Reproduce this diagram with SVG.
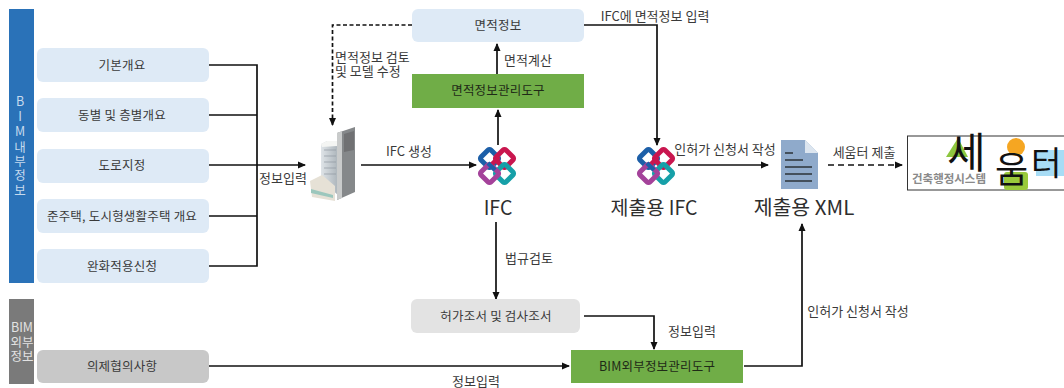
<svg xmlns="http://www.w3.org/2000/svg" xmlns:xlink="http://www.w3.org/1999/xlink" width="1064" height="388" viewBox="0 0 1064 388">
<style>
text{font-family:"Noto Sans CJK KR","Liberation Sans",sans-serif;fill:#3a3a3a;text-anchor:middle}
.s{font-size:13px}
.n{font-size:12.500px;letter-spacing:.2px}
.l{font-size:13px;text-anchor:start}
.b{font-size:19.500px;fill:#2e2e2e}
.blue{fill:#deeaf6}
.c{fill:none;stroke:#111;stroke-width:1.7}
.side{font-size:12.500px;fill:#c6daee}
.side2{font-size:12.500px;fill:#e2e2e2}
.dark{fill:#1f2a17}
</style>
<defs>
<marker id="a" markerWidth="9" markerHeight="8" refX="7" refY="4" orient="auto" markerUnits="userSpaceOnUse"><path d="M0 0.5L8 4L0 7.500Z" fill="#111"/></marker>
<filter id="soft" x="-5%" y="-5%" width="110%" height="110%"><feGaussianBlur stdDeviation=".5"/></filter>
<linearGradient id="tw" x1="0" y1="0" x2="1" y2="0"><stop offset="0" stop-color="#dfe4e8"/><stop offset="1" stop-color="#a9b2b8"/></linearGradient>
<g id="ifc" fill="none" stroke-width="5" filter="url(#soft)">
<rect x="-7" y="-7" width="14" height="14" rx="2" transform="translate(-7.500,-7.500) rotate(45)" stroke="#1f5fa8"/>
<rect x="-7" y="-7" width="14" height="14" rx="2" transform="translate(7.500,-7.500) rotate(45)" stroke="#c9184f"/>
<rect x="-7" y="-7" width="14" height="14" rx="2" transform="translate(7.500,7.500) rotate(45)" stroke="#16a0a8"/>
<rect x="-7" y="-7" width="14" height="14" rx="2" transform="translate(-7.500,7.500) rotate(45)" stroke="#a4429a"/>
<path d="M-9 -3L-2 4" stroke="#1f5fa8" stroke-width="4.500"/>
<path d="M2 -9L-5 -2" stroke="#c9184f" stroke-width="4.500"/>
</g>
</defs>
<rect width="1064" height="388" fill="#fff"/>
<g id="connectors">
<path class="c" d="M209 65H257V266H209M209 115H257M209 216H257"/>
<path class="c" d="M209 165H305" marker-end="url(#a)"/>
<path class="c" d="M412 25H332.500V125" stroke-dasharray="4 2.500" marker-end="url(#a)"/>
<path class="c" d="M361 165H476" marker-end="url(#a)"/>
<path class="c" d="M498 145V110" marker-end="url(#a)"/>
<path class="c" d="M497 74V44" marker-end="url(#a)"/>
<path class="c" d="M584 25H657V145" marker-end="url(#a)"/>
<path class="c" d="M678 165H768" marker-end="url(#a)"/>
<path class="c" d="M828 165H902" stroke-dasharray="6 4" marker-end="url(#a)"/>
<path class="c" d="M496 222V299" marker-end="url(#a)"/>
<path class="c" d="M584 316H654V349" marker-end="url(#a)"/>
<path class="c" d="M209 366H569" marker-end="url(#a)"/>
<path class="c" d="M744 366H802V224" marker-end="url(#a)"/>
</g>
<g id="bim-internal"><rect x="9" y="9" width="25" height="274" fill="#2a72b8"/>
<text x="20" y="106" class="side">B</text><text x="20" y="121" class="side">I</text><text x="20" y="136" class="side">M</text><text x="20" y="152" class="side">내</text><text x="20" y="166" class="side">부</text><text x="20" y="180" class="side">정</text><text x="20" y="195" class="side">보</text></g>
<g id="bim-external"><rect x="9" y="299" width="25" height="85" fill="#7a7a7a"/>
<text x="22" y="332" class="side2">BIM</text><text x="22" y="347" class="side2">외부</text><text x="22" y="361" class="side2">정보</text></g>
<g id="n1"><rect class="blue" x="37" y="48" width="172" height="34" rx="6"/><text class="n" x="122" y="70">기본개요</text></g>
<g id="n2"><rect class="blue" x="37" y="98" width="172" height="34" rx="6"/><text class="n" x="122" y="120">동별 및 층별개요</text></g>
<g id="n3"><rect class="blue" x="37" y="149" width="172" height="34" rx="6"/><text class="n" x="122" y="170">도로지정</text></g>
<g id="n4"><rect class="blue" x="37" y="199" width="172" height="34" rx="6"/><text class="n" x="122" y="221">준주택, 도시형생활주택 개요</text></g>
<g id="n5"><rect class="blue" x="37" y="249" width="172" height="34" rx="6"/><text class="n" x="122" y="271">완화적용신청</text></g>
<g id="n6"><rect fill="#c8c8c8" x="37" y="350" width="172" height="33" rx="6"/><text class="n" x="122" y="371">의제협의사항</text></g>
<g id="area-info"><rect class="blue" x="412" y="9" width="172" height="33" rx="6"/><text class="n" x="498" y="30">면적정보</text></g>
<g id="area-tool"><rect fill="#70ad47" x="412" y="74" width="172" height="34"/><text class="n dark" x="498" y="95">면적정보관리도구</text></g>
<g id="permit"><rect fill="#e3e3e3" x="411" y="299" width="169" height="34" rx="6"/><text class="n" x="496" y="321">허가조서 및 검사조서</text></g>
<g id="ext-tool"><rect fill="#70ad47" x="571" y="350" width="172" height="33"/><text class="n dark" x="657" y="371">BIM외부정보관리도구</text></g>
<g id="building" filter="url(#soft)">
<path d="M321 144L327 141L339 141V196L321 180Z" fill="url(#tw)"/>
<path d="M321 144L327 141L339 141L337 146L322 147Z" fill="#f4f5f3"/>
<path d="M337 133L355 127V192L337 200Z" fill="#85888a"/>
<path d="M337 133L342 131V198L337 200Z" fill="#c9cbcb"/>
<path d="M344 134L354 131V150L344 152Z" fill="#6f7173"/>
<path d="M310 181L322 175L335 186V201L312 197Z" fill="#e6e1d6"/>
<path d="M311 189L333 195V198L311 193Z" fill="#9cc7bd"/>
<path d="M324 150H336M324 156H336M324 162H336M324 168H336M324 174H336" stroke="#8f9aa2" stroke-width=".7" fill="none"/>
</g>
<g id="ifc-1"><use xlink:href="#ifc" href="#ifc" transform="translate(497,166)"/><text x="498" y="215" class="b">IFC</text></g>
<g id="ifc-2"><use xlink:href="#ifc" href="#ifc" transform="translate(656,166)"/><text x="654" y="215" class="b">제출용 IFC</text></g>
<g id="xml"><path d="M781 140H805L818 153V189H781Z" fill="#8faacb"/><path d="M805 140L818 153H805Z" fill="#dce5ef"/>
<path d="M785 153H793M785 160H803M785 167H812M785 174H812M785 181H812" stroke="#44505c" stroke-width="2" fill="none"/>
<text x="804" y="215" class="b" style="font-size:20.500px">제출용 XML</text></g>
<g id="seumteo"><rect x="907.500" y="136" width="157" height="54" fill="#fff" stroke="#333"/>
<g filter="url(#soft)"><path d="M946 157L958 138L968 157Z" fill="#8dc63f"/>
<circle cx="1016" cy="147" r="9" fill="#f5a623"/>
<rect x="1036" y="150" width="28" height="26" fill="#a7dcf5"/>
<rect x="1004" y="172" width="24" height="18" rx="3" fill="#9ac93a"/></g>
<text style="font-weight:400;fill:#111;text-anchor:start"><tspan x="947" y="168" style="font-size:42px">세</tspan><tspan x="995" y="183" style="font-size:36px">움</tspan><tspan x="1031" y="175" style="font-size:33px">터</tspan></text>
<text x="949" y="183" style="font-size:11.500px;font-weight:700;fill:#8a8a8a">건축행정시스템</text></g>
<g id="labels">
<text class="s" x="283" y="183">정보입력</text>
<text class="l" x="335" y="62">면적정보 검토</text>
<text class="l" x="335" y="76">및 모델 수정</text>
<text class="s" x="409" y="156">IFC 생성</text>
<text class="s" x="528" y="65">면적계산</text>
<text class="s" x="655" y="21">IFC에 면적정보 입력</text>
<text class="s" x="725" y="154">인허가 신청서 작성</text>
<text class="s" x="864" y="157">세움터 제출</text>
<text class="s" x="529" y="263">법규검토</text>
<text class="s" x="692" y="336">정보입력</text>
<text class="s" x="476" y="386">정보입력</text>
<text class="s" x="858" y="316">인허가 신청서 작성</text>
</g>
</svg>
